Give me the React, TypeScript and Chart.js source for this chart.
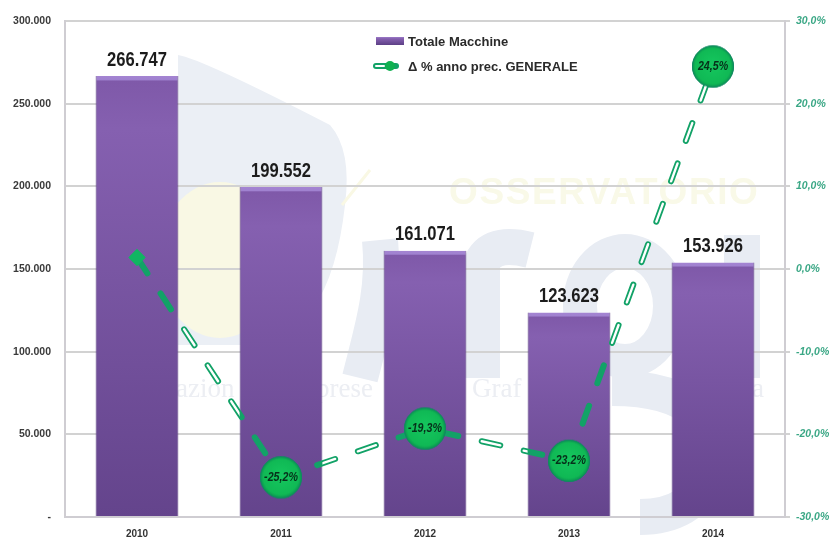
import React, { useEffect, useRef } from "react";
import { Chart, registerables } from "chart.js";

Chart.register(...registerables);

const categories = ["2010", "2011", "2012", "2013", "2014"];
const machines = [266747, 199552, 161071, 123623, 153926];
const changes = [1.4, -25.2, -19.3, -23.2, 24.5];
const machineLabels = ["266.747", "199.552", "161.071", "123.623", "153.926"];
const changeLabels = ["", "-25,2%", "-19,3%", "-23,2%", "24,5%"];
const barLegend = "Totale Macchine";
const lineLegend = "Δ % anno prec. GENERALE";
const FONT = '"Liberation Sans", Arial, sans-serif';

function makeBubble(): HTMLCanvasElement {
  const c = document.createElement("canvas");
  c.width = 44;
  c.height = 44;
  const g = c.getContext("2d")!;
  const r = g.createRadialGradient(22, 20, 4, 22, 22, 21);
  r.addColorStop(0, "#14c45c");
  r.addColorStop(0.8, "#10b955");
  r.addColorStop(1, "#0b9150");
  g.fillStyle = r;
  g.beginPath();
  g.arc(22, 22, 20.5, 0, Math.PI * 2);
  g.fill();
  g.strokeStyle = "#128a62";
  g.lineWidth = 1;
  g.stroke();
  return c;
}

function tracePolyline(ctx: CanvasRenderingContext2D, pts: any[]) {
  ctx.beginPath();
  pts.forEach((p, i) => (i ? ctx.lineTo(p.x, p.y) : ctx.moveTo(p.x, p.y)));
}

function squeezedText(ctx: CanvasRenderingContext2D, text: string, x: number, y: number, sx: number) {
  ctx.save();
  ctx.translate(x, y);
  ctx.scale(sx, 1);
  ctx.fillText(text, 0, 0);
  ctx.restore();
}

const watermark = {
  id: "watermark",
  beforeDraw(chart: any) {
    const ctx: CanvasRenderingContext2D = chart.ctx;
    const blue = "#e8ecf3";
    ctx.save();
    // upper sail
    ctx.fillStyle = "#ebeff5";
    ctx.beginPath();
    ctx.moveTo(178, 55);
    ctx.quadraticCurveTo(200, 58, 330, 125);
    ctx.quadraticCurveTo(352, 150, 345, 205);
    ctx.quadraticCurveTo(330, 340, 250, 345);
    ctx.lineTo(178, 345);
    ctx.closePath();
    ctx.fill();
    // yellow sun
    ctx.fillStyle = "#f9f8e4";
    ctx.beginPath();
    ctx.ellipse(220, 260, 62, 78, 0, 0, Math.PI * 2);
    ctx.fill();
    ctx.strokeStyle = "#f9f8e4";
    ctx.lineWidth = 3;
    ctx.beginPath();
    ctx.moveTo(342, 205);
    ctx.lineTo(370, 170);
    ctx.stroke();
    // logo letters
    ctx.strokeStyle = blue;
    ctx.lineCap = "butt";
    ctx.lineWidth = 36;
    ctx.beginPath();
    ctx.moveTo(482, 378);
    ctx.lineTo(482, 262);
    ctx.bezierCurveTo(490, 245, 510, 245, 530, 250);
    ctx.stroke();
    ctx.beginPath();
    ctx.moveTo(360, 378);
    ctx.bezierCurveTo(372, 330, 385, 290, 380, 240);
    ctx.stroke();
    ctx.lineWidth = 34;
    ctx.beginPath();
    ctx.ellipse(625, 306, 45, 55, 0, 0, Math.PI * 2);
    ctx.stroke();
    ctx.lineWidth = 36;
    ctx.beginPath();
    ctx.moveTo(742, 235);
    ctx.lineTo(742, 378);
    ctx.stroke();
    ctx.beginPath();
    ctx.moveTo(612, 388);
    ctx.bezierCurveTo(700, 388, 722, 430, 712, 470);
    ctx.bezierCurveTo(700, 505, 670, 517, 640, 517);
    ctx.stroke();
    // faint wording
    ctx.fillStyle = "#f9f9e8";
    ctx.font = `bold 37px ${FONT}`;
    (ctx as any).letterSpacing = "1.6px";
    ctx.textBaseline = "alphabetic";
    ctx.fillText("OSSERVATORIO", 449, 204);
    (ctx as any).letterSpacing = "0px";
    ctx.fillStyle = "#eceef3";
    ctx.font = '27px "Liberation Serif", serif';
    ctx.fillText("azion", 176, 397);
    ctx.fillText("prese", 316, 397);
    ctx.fillText("Graf", 472, 397);
    ctx.fillText("a", 752, 397);
    ctx.restore();
  },
};

const overlay = {
  id: "overlay",
  afterDatasetDraw(chart: any, args: any) {
    if (args.index !== 1) return;
    const ctx: CanvasRenderingContext2D = chart.ctx;
    const area = chart.chartArea;
    const pts = chart.getDatasetMeta(1).data;
    const bars = chart.getDatasetMeta(0).data;
    // hollow core of the dashed line: shows only where it crosses the white background
    ctx.save();
    ctx.beginPath();
    ctx.rect(0, 0, chart.width, chart.height);
    bars.forEach((b: any) => ctx.rect(b.x - b.width / 2, b.y, b.width, area.bottom - b.y));
    ctx.clip("evenodd");
    tracePolyline(ctx, pts);
    ctx.setLineDash(chart.data.datasets[1].borderDash);
    ctx.lineDashOffset = chart.data.datasets[1].borderDashOffset;
    ctx.lineCap = "round";
    ctx.lineWidth = 2.4;
    ctx.strokeStyle = "#ffffff";
    ctx.stroke();
    ctx.restore();
    pts.forEach((p: any) => p.draw(ctx, area));
  },
  afterDraw(chart: any) {
    const ctx: CanvasRenderingContext2D = chart.ctx;
    ctx.save();
    ctx.textAlign = "center";
    ctx.textBaseline = "middle";
    ctx.fillStyle = "#1c1c1c";
    ctx.font = `bold 20.5px ${FONT}`;
    chart.getDatasetMeta(0).data.forEach((b: any, i: number) => {
      squeezedText(ctx, machineLabels[i], b.x, b.y - 16, 0.81);
    });
    ctx.fillStyle = "#06301a";
    ctx.font = `italic bold 13px ${FONT}`;
    chart.getDatasetMeta(1).data.forEach((p: any, i: number) => {
      squeezedText(ctx, changeLabels[i], p.x, p.y, 0.82);
    });
    // legend
    ctx.textAlign = "left";
    ctx.fillStyle = "#2a2a2a";
    ctx.font = `bold 13px ${FONT}`;
    ctx.fillText(barLegend, 408, 42);
    ctx.fillText(lineLegend, 408, 67);
    const g = ctx.createLinearGradient(0, 36, 0, 45);
    g.addColorStop(0, "#a98bd6");
    g.addColorStop(0.3, "#8560b0");
    g.addColorStop(1, "#5c3f85");
    ctx.fillStyle = g;
    ctx.fillRect(376, 37, 28, 8);
    ctx.lineCap = "round";
    ctx.strokeStyle = "#12a267";
    ctx.lineWidth = 6;
    ctx.beginPath();
    ctx.moveTo(376, 66);
    ctx.lineTo(396, 66);
    ctx.stroke();
    ctx.strokeStyle = "#ffffff";
    ctx.lineWidth = 2;
    ctx.beginPath();
    ctx.moveTo(376, 66);
    ctx.lineTo(384, 66);
    ctx.stroke();
    ctx.fillStyle = "#10b050";
    ctx.beginPath();
    ctx.arc(390, 66, 5, 0, Math.PI * 2);
    ctx.fill();
    ctx.restore();
  },
};

export default function App() {
  const ref = useRef<HTMLCanvasElement>(null);
  useEffect(() => {
    const bubble = makeBubble();
    const chart = new Chart(ref.current!, {
      type: "bar",
      data: {
        labels: categories,
        datasets: [
          {
            type: "bar",
            label: barLegend,
            data: machines,
            order: 2,
            yAxisID: "y",
            categoryPercentage: 1,
            barPercentage: 0.575,
            borderWidth: { top: 0, left: 1, right: 1, bottom: 0 },
            borderSkipped: false,
            borderColor: "#5a3d80",
            backgroundColor: (c: any) => {
              const sc = c.chart.scales.y;
              if (!sc || c.raw == null) return "#7a55a5";
              const top = sc.getPixelForValue(c.raw);
              const bot = sc.getPixelForValue(0);
              if (!Number.isFinite(top) || !Number.isFinite(bot)) return "#7a55a5";
              const h = Math.max(bot - top, 1);
              const g = c.chart.ctx.createLinearGradient(0, top, 0, bot);
              const s = Math.min(3.5 / h, 0.05);
              g.addColorStop(0, "#a484d2");
              g.addColorStop(s, "#a082d0");
              g.addColorStop(s + 0.004, "#7f59a9");
              g.addColorStop(0.12, "#8560b0");
              g.addColorStop(1, "#64448c");
              return g;
            },
          },
          {
            type: "line",
            label: lineLegend,
            data: changes,
            order: 1,
            yAxisID: "y1",
            clip: false,
            tension: 0,
            fill: false,
            borderColor: "#12a267",
            borderWidth: 6,
            borderDash: [19, 24],
            borderDashOffset: 0,
            borderCapStyle: "round",
            pointStyle: ["rectRot", bubble, bubble, bubble, bubble],
            pointRadius: [8.5, 21, 21, 21, 21],
            pointBackgroundColor: "#10b562",
            pointBorderColor: "#10a060",
            pointBorderWidth: 0,
          },
        ],
      } as any,
      plugins: [watermark, overlay],
      options: {
        responsive: false,
        animation: false,
        layout: { padding: { top: 20, left: 0, right: 0, bottom: 0 } },
        plugins: { legend: { display: false }, tooltip: { enabled: false } },
        scales: {
          x: {
            afterFit: (s: any) => { s.height = 21; },
            grid: { display: false, drawTicks: false },
            border: { display: true, color: "#cfcdd2", width: 2 },
            ticks: { padding: 11, color: "#333", font: { family: FONT, size: 10, weight: "bold" } },
          },
          y: {
            min: 0,
            max: 300000,
            position: "left",
            afterFit: (s: any) => { s.width = 65; },
            grid: { color: "#d2d2d2", lineWidth: 2, drawTicks: false },
            border: { display: true, color: "#cfcdd2", width: 2 },
            ticks: {
              stepSize: 50000,
              padding: 14,
              color: "#3a3a3a",
              font: { family: FONT, size: 10.5, weight: "bold" },
              callback: (v: any) => (v === 0 ? "-" : Number(v).toLocaleString("de-DE")),
            },
          },
          y1: {
            min: -30,
            max: 30,
            position: "right",
            afterFit: (s: any) => { s.width = 46; },
            grid: { drawOnChartArea: false, color: "#d2d2d2", lineWidth: 2, tickLength: 5 },
            border: { display: true, color: "#cfcdd2", width: 2 },
            ticks: {
              stepSize: 10,
              padding: 6,
              color: "#3aa785",
              font: { family: FONT, size: 10.5, weight: "bold", style: "italic" },
              callback: (v: any) => `${Number(v).toFixed(1).replace(".", ",")}%`,
            },
          },
        },
      },
    } as any);
    return () => chart.destroy();
  }, []);
  return (
    <div style={{ position: "absolute", left: 0, top: 0, width: 831, height: 538, background: "#fff" }}>
      <canvas ref={ref} width={831} height={538} style={{ display: "block", filter: "blur(0.45px)" }} />
    </div>
  );
}
